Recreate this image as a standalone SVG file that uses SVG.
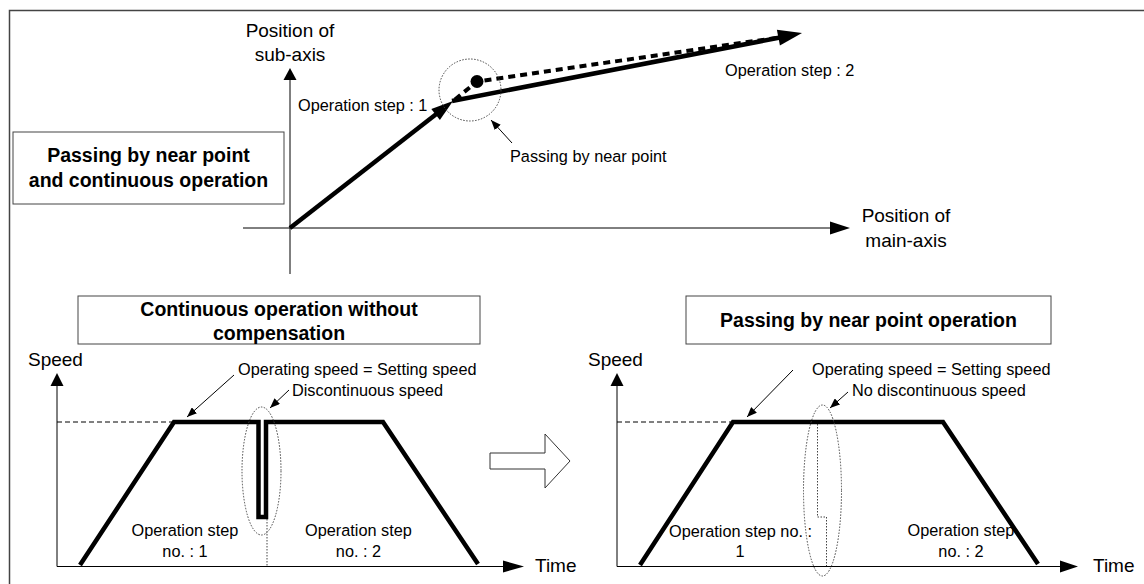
<svg xmlns="http://www.w3.org/2000/svg" width="1144" height="584" viewBox="0 0 1144 584">
<style>
text{font-family:"Liberation Sans",Arial,sans-serif;fill:#000}
.ax{font-size:19px}
.sm{font-size:16.3px}
.bd{font-size:19.5px;font-weight:bold}
.box{fill:#fff;stroke:#444;stroke-width:1}
.thin{stroke:#000;stroke-width:1;fill:none}
.thick{stroke:#000;stroke-width:4.5;fill:none;stroke-linejoin:miter}
.dot{stroke:#444;stroke-width:1;fill:none;stroke-dasharray:1.5 1.5}
.lead{stroke:#000;stroke-width:1;fill:none;marker-end:url(#sa)}
.guide{stroke:#000;stroke-width:1;fill:none;stroke-dasharray:5 3}
</style>
<defs>
<marker id="sa" markerUnits="userSpaceOnUse" markerWidth="10" markerHeight="8" refX="10" refY="4" orient="auto">
<path d="M0,0 L10,4 L0,8 z" fill="#000"/>
</marker>
</defs>
<rect width="1144" height="584" fill="#fff"/>
<g id="frame">
<path d="M9.5,600 V10.5 H1150" fill="none" stroke="#444" stroke-width="1.5"/>
</g>

<g id="title-top">
<rect class="box" x="13" y="132" width="271" height="72"/>
<text class="bd" x="148.5" y="162" text-anchor="middle">Passing by near point</text>
<text class="bd" x="148.5" y="187" text-anchor="middle">and continuous operation</text>
</g>

<g id="top-axes">
<line class="thin" x1="290" y1="274" x2="290" y2="79"/>
<polygon points="290,68 283.5,80 296.5,80" fill="#000"/>
<line class="thin" x1="243" y1="228" x2="831" y2="228"/>
<polygon points="850,228 830,221.5 830,234.5" fill="#000"/>
<text class="ax" x="290" y="36.5" text-anchor="middle">Position of</text>
<text class="ax" x="290" y="60.5" text-anchor="middle">sub-axis</text>
<text class="ax" x="906" y="221.5" text-anchor="middle">Position of</text>
<text class="ax" x="906" y="246.5" text-anchor="middle">main-axis</text>
</g>

<g id="path-top">
<line class="thick" x1="290" y1="228" x2="437" y2="113.5" stroke-width="4"/>
<polygon points="453,101 439.9,120 431.3,109" fill="#000"/>
<line class="thick" x1="452" y1="101" x2="780" y2="37.5" stroke-width="4"/>
<polyline points="455,99.5 477,81.5 779,37.5" fill="none" stroke="#000" stroke-width="4" stroke-dasharray="7 5"/>
<polygon points="802,33 779.9,45.5 776.9,29.7" fill="#000"/>
<circle cx="477" cy="81.5" r="6.5" fill="#000"/>
<circle class="dot" cx="470" cy="90" r="31"/>
<line class="lead" x1="512" y1="143" x2="491" y2="120"/>
<text class="sm" x="298" y="111">Operation step : 1</text>
<text class="sm" x="725" y="76">Operation step : 2</text>
<text class="sm" x="510" y="162">Passing by near point</text>
</g>

<g id="title-left">
<rect class="box" x="78" y="296" width="402" height="48"/>
<text class="bd" x="279" y="315.5" text-anchor="middle">Continuous operation without</text>
<text class="bd" x="279" y="340" text-anchor="middle">compensation</text>
</g>

<g id="chart-left">
<line class="thin" x1="57" y1="566.5" x2="57" y2="385"/>
<polygon points="57,373 50.5,386 63.5,386" fill="#000"/>
<line class="thin" x1="57" y1="566.5" x2="504" y2="566.5"/>
<polygon points="524,566.5 503,560.5 503,572.5" fill="#000"/>
<text class="ax" x="28" y="366">Speed</text>
<text class="ax" x="535" y="572">Time</text>
<line class="guide" x1="57" y1="422" x2="173" y2="422"/>
<polyline class="thick" points="80,565 174,422 258.5,422 258.5,517 266,517 266,422 383,422 478,564"/>
<line class="dot" x1="267" y1="519" x2="267" y2="566"/>
<ellipse class="dot" cx="261.5" cy="471" rx="19.5" ry="64"/>
<line class="lead" x1="234" y1="375" x2="187" y2="417"/>
<line class="lead" x1="289" y1="390" x2="270" y2="408"/>
<text class="sm" x="238" y="375">Operating speed = Setting speed</text>
<text class="sm" x="292" y="396">Discontinuous speed</text>
<text class="sm" x="185" y="536" text-anchor="middle">Operation step</text>
<text class="sm" x="185" y="557" text-anchor="middle">no. : 1</text>
<text class="sm" x="358.5" y="536" text-anchor="middle">Operation step</text>
<text class="sm" x="358.5" y="557" text-anchor="middle">no. : 2</text>
</g>

<g id="big-arrow">
<polygon points="490,453 545,453 545,434 570,461 545,488 545,469 490,469" fill="#fff" stroke="#333" stroke-width="1"/>
</g>

<g id="title-right">
<rect class="box" x="686" y="296" width="365" height="48"/>
<text class="bd" x="868.5" y="327" text-anchor="middle">Passing by near point operation</text>
</g>

<g id="chart-right">
<line class="thin" x1="617" y1="566.5" x2="617" y2="385"/>
<polygon points="617,373 610.5,386 623.5,386" fill="#000"/>
<line class="thin" x1="617" y1="566.5" x2="1061" y2="566.5"/>
<polygon points="1078,566.5 1060,560.5 1060,572.5" fill="#000"/>
<text class="ax" x="588" y="366">Speed</text>
<text class="ax" x="1093" y="572">Time</text>
<line class="guide" x1="617" y1="422" x2="733" y2="422"/>
<polyline class="thick" points="640,565 733,422 943,422 1038,564"/>
<polyline class="dot" points="817.5,424 817.5,517 826.5,517 826.5,566"/>
<ellipse class="dot" cx="822.5" cy="490.5" rx="19" ry="85.5"/>
<line class="lead" x1="793" y1="370" x2="747" y2="417"/>
<line class="lead" x1="848" y1="392" x2="830" y2="408"/>
<text class="sm" x="812" y="375">Operating speed = Setting speed</text>
<text class="sm" x="852" y="396">No discontinuous speed</text>
<text class="sm" x="669" y="537">Operation step no. :</text>
<text class="sm" x="740" y="557" text-anchor="middle">1</text>
<text class="sm" x="961" y="536" text-anchor="middle">Operation step</text>
<text class="sm" x="961" y="557" text-anchor="middle">no. : 2</text>
</g>
</svg>
